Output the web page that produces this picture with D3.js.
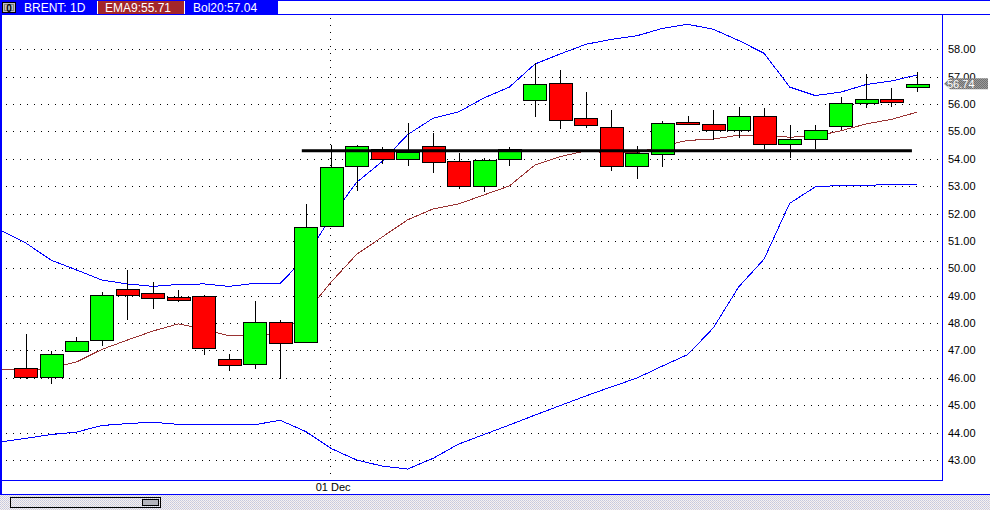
<!DOCTYPE html>
<html><head><meta charset="utf-8">
<script src="https://cdn.jsdelivr.net/npm/d3@7"></script>
<style>html,body{margin:0;padding:0;background:#fff;overflow:hidden}svg{display:block}</style>
</head><body><svg id="c" width="990" height="510"></svg>
<script>
// ---- data ----
const dates = ["2016-11-14","2016-11-15","2016-11-16","2016-11-17","2016-11-18","2016-11-21","2016-11-22","2016-11-23","2016-11-24","2016-11-25","2016-11-28","2016-11-29","2016-11-30","2016-12-01","2016-12-02","2016-12-05","2016-12-06","2016-12-07","2016-12-08","2016-12-09","2016-12-12","2016-12-13","2016-12-14","2016-12-15","2016-12-16","2016-12-19","2016-12-20","2016-12-21","2016-12-22","2016-12-23","2016-12-26","2016-12-27","2016-12-28","2016-12-29","2016-12-30","2017-01-02","2017-01-03"];
const candleDates = dates.slice(1);
const opens  = [46.35,46.02,46.98,47.38,49.23,49.09,48.95,48.99,46.69,46.50,48.04,47.31,51.55,53.73,54.37,53.98,54.46,53.92,53.02,53.98,56.14,56.76,55.48,55.15,53.73,54.17,55.34,55.26,55.04,55.55,54.53,54.71,55.19,56.03,56.17,56.61];
const highs  = [47.60,46.98,47.49,49.12,49.94,49.49,49.20,49.04,46.86,48.81,48.10,52.35,54.50,54.50,54.42,55.31,54.94,54.20,54.02,54.43,57.51,57.24,56.44,55.78,54.46,55.38,55.56,55.78,55.89,55.85,55.24,55.24,56.26,57.09,56.58,57.16];
const lows   = [45.97,45.76,46.96,47.17,48.12,48.53,48.76,46.85,46.26,46.33,45.95,47.31,51.55,52.84,53.82,53.74,53.49,52.91,52.79,53.74,55.54,55.10,55.14,53.57,53.25,53.71,55.26,54.69,54.75,54.37,54.04,54.35,55.04,55.87,55.90,56.45];
const closes = [46.02,46.86,47.34,49.02,49.02,48.91,48.85,47.08,46.46,48.04,47.26,51.50,53.69,54.47,53.98,54.25,53.87,53.00,53.96,54.35,56.72,55.41,55.22,53.73,54.20,55.30,55.26,55.04,55.55,54.53,54.72,55.04,56.03,56.17,56.09,56.74];
const ema9 = [46.31,46.27,46.36,46.58,47.04,47.38,47.71,47.97,47.78,47.53,47.57,47.57,48.37,49.50,50.51,51.14,51.77,52.17,52.35,52.68,53.01,53.77,54.08,54.29,54.21,54.22,54.47,54.67,54.72,54.86,54.83,54.79,54.82,55.02,55.27,55.44,55.70];
const bolUpper = [51.40,50.93,50.30,49.94,49.57,49.43,49.34,49.41,49.43,49.34,49.45,49.45,50.41,51.88,53.14,53.90,54.88,55.48,55.71,56.22,56.62,57.46,57.83,58.18,58.36,58.49,58.76,58.91,58.73,58.32,57.85,56.62,56.31,56.43,56.71,56.84,57.06];
const bolLower = [43.66,43.79,43.93,44.02,44.26,44.33,44.38,44.30,44.30,44.28,44.29,44.45,44.04,43.42,43.00,42.78,42.67,43.06,43.58,43.93,44.28,44.64,44.99,45.34,45.67,45.99,46.43,46.85,47.82,49.32,50.34,52.37,52.97,53.03,53.03,53.06,53.07];
const yTicks = [43,44,45,46,47,48,49,50,51,52,53,54,55,56,57,58];
const xTickDates = ["2016-12-01"];
const xTickLabels = ["01 Dec"];
const supportLevel = 54.29, supportFrom = "2016-11-30", supportTo = "2017-01-03";
const symbolLabel = "BRENT: 1D", emaLabel = "EMA9:55.71", bolLabel = "Bol20:57.04";

// ---- layout ----
const svg = d3.select("#c");
const W = 990, H = 510;
const P = {left: 1, right: 942, top: 15, bottom: 480};
const FONT = "'Liberation Sans', Arial, sans-serif";
const BLUE = "#0000ff";

const y = d3.scaleLinear().domain([42.27, 59.25]).range([P.bottom, P.top]);
const x = d3.scaleBand().domain(dates).range([-12.67, 929.7]).paddingInner(0.1).paddingOuter(0.05);
const xc = d => x(d) + x.bandwidth() / 2;

const defs = svg.append("defs");
defs.append("clipPath").attr("id", "plotClip").append("rect")
  .attr("x", P.left + 1).attr("y", P.top).attr("width", P.right - P.left - 1).attr("height", P.bottom - P.top);
const pat = defs.append("pattern").attr("id", "dither").attr("width", 2).attr("height", 2).attr("patternUnits", "userSpaceOnUse");
pat.append("rect").attr("width", 2).attr("height", 2).attr("fill", "#f2f2f6");
pat.append("rect").attr("width", 1).attr("height", 1).attr("fill", "#c8c8dc");
pat.append("rect").attr("x", 1).attr("y", 1).attr("width", 1).attr("height", 1).attr("fill", "#d8d0d8");
const pat2 = defs.append("pattern").attr("id", "dither2").attr("width", 2).attr("height", 2).attr("patternUnits", "userSpaceOnUse");
pat2.append("rect").attr("width", 2).attr("height", 2).attr("fill", "#9a9a9a");
pat2.append("rect").attr("width", 1).attr("height", 1).attr("fill", "#707070");
pat2.append("rect").attr("x", 1).attr("y", 1).attr("width", 1).attr("height", 1).attr("fill", "#707070");

svg.append("rect").attr("width", W).attr("height", H).attr("fill", "#fff");

// ---- header ----
svg.append("rect").attr("x", 0).attr("y", 0).attr("width", 278).attr("height", 15).attr("fill", BLUE);
svg.append("rect").attr("x", 0).attr("y", 0).attr("width", W).attr("height", 1).attr("fill", BLUE);
svg.append("rect").attr("x", 2.5).attr("y", 2.5).attr("width", 13).attr("height", 10).attr("fill", "#c0c0c0").attr("stroke", "#000");
svg.append("rect").attr("x", 4.5).attr("y", 4.5).attr("width", 9).attr("height", 6).attr("fill", "none").attr("stroke", "#808080");
svg.append("text").attr("x", 9).attr("y", 11.5).attr("text-anchor", "middle").attr("font-family", FONT).attr("font-weight", "bold")
  .attr("font-size", 10).attr("fill", "#000").text("0");
svg.append("text").attr("x", 24).attr("y", 11.5).attr("font-family", FONT).attr("font-size", 12).attr("fill", "#fff").text(symbolLabel);
svg.append("rect").attr("x", 97).attr("y", 1).attr("width", 1).attr("height", 13).attr("fill", "#fff");
svg.append("rect").attr("x", 98).attr("y", 1).attr("width", 86).attr("height", 13).attr("fill", "#a3262a");
svg.append("rect").attr("x", 184).attr("y", 1).attr("width", 1).attr("height", 13).attr("fill", "#fff");
svg.append("text").attr("x", 105).attr("y", 11.5).attr("font-family", FONT).attr("font-size", 12).attr("fill", "#fff").text(emaLabel);
svg.append("text").attr("x", 193).attr("y", 11.5).attr("font-family", FONT).attr("font-size", 12).attr("fill", "#fff").text(bolLabel);

// ---- gridlines ----
const grid = svg.append("g");
grid.selectAll("line.h").data(yTicks).join("line")
  .attr("x1", 6).attr("x2", P.right - 2)
  .attr("y1", d => Math.round(y(d)) + 0.5).attr("y2", d => Math.round(y(d)) + 0.5)
  .attr("stroke", "#000").attr("stroke-dasharray", "1,6").attr("shape-rendering", "crispEdges");
grid.selectAll("line.v").data(xTickDates).join("line")
  .attr("x1", d => Math.round(xc(d)) - 0.5).attr("x2", d => Math.round(xc(d)) - 0.5)
  .attr("y1", P.top + 3).attr("y2", P.bottom)
  .attr("stroke", "#000").attr("stroke-dasharray", "1,6").attr("shape-rendering", "crispEdges");

const plot = svg.append("g").attr("clip-path", "url(#plotClip)");

// ---- indicator lines ----
const lineGen = arr => d3.line().x((d, i) => xc(dates[i])).y(d => y(d))(arr);
plot.append("path").attr("d", lineGen(bolUpper)).attr("fill", "none").attr("stroke", BLUE).attr("stroke-width", 1).attr("shape-rendering", "crispEdges");
plot.append("path").attr("d", lineGen(bolLower)).attr("fill", "none").attr("stroke", BLUE).attr("stroke-width", 1).attr("shape-rendering", "crispEdges");
plot.append("path").attr("d", lineGen(ema9)).attr("fill", "none").attr("stroke", "#993333").attr("stroke-width", 1).attr("shape-rendering", "crispEdges");

// ---- candles ----
const candles = candleDates.map((d, i) => ({d, o: opens[i], h: highs[i], l: lows[i], c: closes[i]}));
const cg = plot.append("g");
cg.selectAll("line.wick").data(candles).join("line")
  .attr("x1", c => Math.round(xc(c.d)) + 0.5).attr("x2", c => Math.round(xc(c.d)) + 0.5)
  .attr("y1", c => Math.round(y(c.h))).attr("y2", c => Math.round(y(c.l)))
  .attr("stroke", "#000").attr("stroke-width", 1).attr("shape-rendering", "crispEdges");
cg.selectAll("rect.body").data(candles).join("rect")
  .attr("x", c => Math.round(x(c.d)) + 0.5)
  .attr("width", Math.round(x.bandwidth()))
  .attr("y", c => Math.round(y(Math.max(c.o, c.c))) + 0.5)
  .attr("height", c => Math.max(2, Math.round(y(Math.min(c.o, c.c))) - Math.round(y(Math.max(c.o, c.c)))))
  .attr("fill", c => c.c >= c.o ? "#00ff00" : "#ff0000")
  .attr("stroke", "#000").attr("stroke-width", 1).attr("shape-rendering", "crispEdges");

// ---- support line ----
plot.append("line")
  .attr("x1", x(supportFrom) + x.bandwidth() * 0.33).attr("x2", x(supportTo) + x.bandwidth() * 0.28)
  .attr("y1", y(supportLevel)).attr("y2", y(supportLevel))
  .attr("stroke", "#000").attr("stroke-width", 3);

// ---- frame ----
svg.append("rect").attr("x", 0).attr("y", 14).attr("width", W).attr("height", 1).attr("fill", BLUE);
svg.append("rect").attr("x", 0).attr("y", 14).attr("width", 2).attr("height", 481).attr("fill", BLUE);
svg.append("rect").attr("x", P.right).attr("y", 14).attr("width", 1).attr("height", P.bottom - 14 + 1).attr("fill", BLUE);
svg.append("rect").attr("x", 0).attr("y", P.bottom).attr("width", P.right + 1).attr("height", 1).attr("fill", BLUE);
svg.append("rect").attr("x", 0).attr("y", 494).attr("width", W).attr("height", 1).attr("fill", BLUE);

// ---- y axis labels ----
svg.selectAll("text.yl").data(yTicks).join("text")
  .attr("x", 948).attr("y", d => y(d) + 4)
  .attr("font-family", FONT).attr("font-size", 11).attr("fill", "#000")
  .text(d => d.toFixed(2));

// ---- last price tag ----
const lastY = y(closes[closes.length - 1]);
svg.append("path")
  .attr("d", `M${P.right + 2},${lastY} L${P.right + 8},${lastY - 5.5} L988,${lastY - 5.5} L988,${lastY + 5.5} L${P.right + 8},${lastY + 5.5} Z`)
  .attr("fill", "url(#dither2)");
svg.append("text").attr("x", 947).attr("y", lastY + 4)
  .attr("font-family", FONT).attr("font-size", 11).attr("fill", "#fff")
  .text(closes[closes.length - 1].toFixed(2));

// ---- x axis labels ----
svg.selectAll("text.xl").data(xTickDates).join("text")
  .attr("x", d => xc(d) + 2).attr("y", 491)
  .attr("text-anchor", "middle")
  .attr("font-family", FONT).attr("font-size", 11).attr("fill", "#000")
  .text((d, i) => xTickLabels[i]);

// ---- scroll bar area ----
svg.append("rect").attr("x", 0).attr("y", 495).attr("width", W).attr("height", 15).attr("fill", "url(#dither)");
svg.append("rect").attr("x", 10.5).attr("y", 497.5).attr("width", 150).attr("height", 10).attr("fill", "url(#dither)").attr("stroke", "#000");
svg.append("rect").attr("x", 142.5).attr("y", 499.5).attr("width", 16).attr("height", 6).attr("fill", "#b4b4bc").attr("stroke", "#000");
</script>
</body></html>
